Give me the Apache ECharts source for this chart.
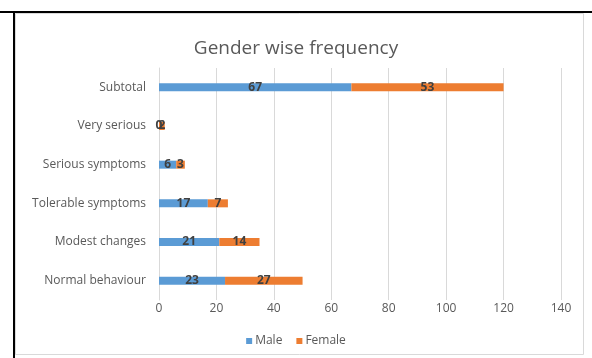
<!DOCTYPE html>
<html>
<head>
<meta charset="utf-8">
<script src="https://cdn.jsdelivr.net/npm/echarts@6/dist/echarts.min.js"></script>
<style>
  html, body { margin: 0; padding: 0; background: #fff; }
  #chart { position: absolute; left: 0; top: 0; width: 592px; height: 358px; }
</style>
</head>
<body>
<div id="chart"></div>
<script>
// Symptom categories, listed bottom to top
const categories = ['Normal behaviour', 'Modest changes', 'Tolerable symptoms', 'Serious symptoms', 'Very serious', 'Subtotal'];
const maleValues = [23, 21, 17, 6, 0, 67];
const femaleValues = [27, 14, 7, 3, 2, 53];
const xTicks = [0, 20, 40, 60, 80, 100, 120, 140];

const chart = echarts.init(document.getElementById('chart'), null, { renderer: 'canvas' });

const FONT = 'Open Sans';

const labelStyle = {
  show: true,
  position: 'inside',
  color: '#404040',
  fontSize: 12,
  fontWeight: 'bold',
  fontFamily: FONT
};

chart.setOption({
  animation: false,
  backgroundColor: '#fff',
  title: {
    text: 'Gender wise frequency',
    left: 'center',
    top: 34,
    textStyle: { color: '#595959', fontSize: 19, fontWeight: 'normal', fontFamily: FONT }
  },
  legend: {
    top: 330,
    left: 'center',
    itemWidth: 6,
    itemHeight: 6,
    itemGap: 14,
    icon: 'rect',
    textStyle: { color: '#595959', fontSize: 12, fontFamily: FONT, padding: [0, 0, 0, -2] },
    data: ['Male', 'Female']
  },
  grid: { left: 159, right: 31, top: 68, bottom: 58 },
  xAxis: {
    type: 'value',
    min: xTicks[0],
    max: xTicks[xTicks.length - 1],
    interval: 20,
    axisLine: { show: false },
    axisTick: { show: false },
    axisLabel: { color: '#595959', fontSize: 12, fontFamily: FONT, margin: 3 },
    splitLine: { lineStyle: { color: '#d9d9d9', width: 1 } }
  },
  yAxis: {
    type: 'category',
    data: categories,
    axisLine: { show: true, lineStyle: { color: '#d9d9d9' } },
    axisTick: { show: false },
    axisLabel: { color: '#595959', fontSize: 12, fontFamily: FONT, margin: 13 }
  },
  series: [
    { name: 'Male', type: 'bar', stack: 'g', data: maleValues, barWidth: 8,
      itemStyle: { color: '#5B9BD5' }, label: labelStyle },
    { name: 'Female', type: 'bar', stack: 'g', data: femaleValues, barWidth: 8,
      itemStyle: { color: '#ED7D31' }, label: labelStyle }
  ],
  graphic: [
    // light chart-area border
    { type: 'rect', shape: { x: 15.5, y: 13.5, width: 568, height: 341 },
      style: { fill: null, stroke: '#d9d9d9', lineWidth: 1 }, silent: true },
    // dark frame on top and left
    { type: 'line', shape: { x1: 0, y1: 12, x2: 592, y2: 12 },
      style: { stroke: '#000', lineWidth: 2 }, silent: true },
    { type: 'line', shape: { x1: 14, y1: 12, x2: 14, y2: 358 },
      style: { stroke: '#000', lineWidth: 2 }, silent: true }
  ]
});
</script>
</body>
</html>
